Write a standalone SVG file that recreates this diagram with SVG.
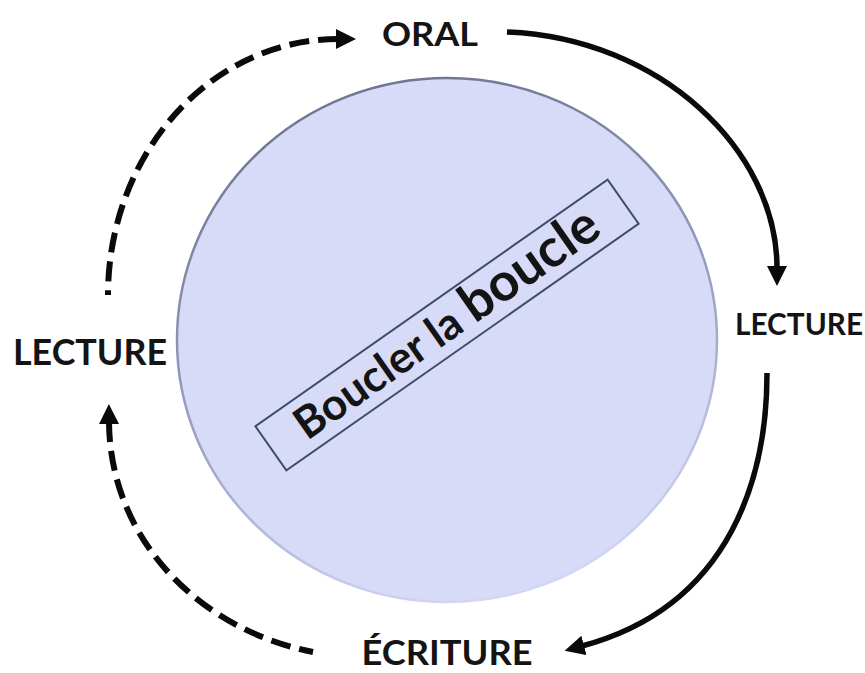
<svg xmlns="http://www.w3.org/2000/svg" width="865" height="673" viewBox="0 0 865 673">
<style>
.lbl{font-family:Lato,"Open Sans","Liberation Sans",sans-serif;font-weight:700;fill:#141414;}
.solid{fill:none;stroke:#0a0a0a;stroke-width:5.5;}
.dash{fill:none;stroke:#0a0a0a;stroke-width:6;stroke-dasharray:20 9;}
</style>
<defs>
<linearGradient id="edge" x1="0.3" y1="0" x2="0.6" y2="1">
<stop offset="0" stop-color="#6c7390"/>
<stop offset="0.55" stop-color="#9aa0c4"/>
<stop offset="1" stop-color="#d4d8f5"/>
</linearGradient>
<marker id="ah" viewBox="0 0 20 20" refX="2" refY="10" markerWidth="20" markerHeight="20" markerUnits="userSpaceOnUse" orient="auto-start-reverse">
<path d="M0,0 L20,10 L0,20 z" fill="#0a0a0a"/>
</marker>
</defs>
<rect width="865" height="673" fill="#ffffff"/>
<g id="centre">
<ellipse cx="447" cy="340" rx="270" ry="262" fill="#d8dbf7" stroke="url(#edge)" stroke-width="2.5"/>
<g transform="translate(447,325) rotate(-35)">
<rect x="-215" y="-27" width="430" height="54" fill="none" stroke="#3e4c6c" stroke-width="2"/>
<text class="lbl" x="0" y="15" text-anchor="middle" font-size="44">Boucler la <tspan font-size="53">boucle</tspan></text>
</g>
</g>
<g id="oral"><text class="lbl" x="430" y="46" text-anchor="middle" font-size="32" textLength="96" lengthAdjust="spacingAndGlyphs">ORAL</text></g>
<g id="lecture-gauche"><text class="lbl" x="90" y="365" text-anchor="middle" font-size="36" textLength="154" lengthAdjust="spacingAndGlyphs">LECTURE</text></g>
<g id="lecture-droite"><text class="lbl" x="799" y="335" text-anchor="middle" font-size="30" textLength="128" lengthAdjust="spacingAndGlyphs">LECTURE</text></g>
<g id="ecriture"><text class="lbl" x="447" y="665" text-anchor="middle" font-size="34" textLength="171" lengthAdjust="spacingAndGlyphs">ÉCRITURE</text></g>
<g id="connectors">
<path class="dash" d="M338,39 A230,256 0 0 0 108,295" marker-start="url(#ah)"/>
<path class="solid" d="M507,32 C660,38 777,150 777,268" marker-end="url(#ah)"/>
<path class="solid" d="M767,373 C767,470 735,605 582,646" marker-end="url(#ah)"/>
<path class="dash" d="M109,422 C110,540 200,630 313,652" marker-start="url(#ah)"/>
</g>
</svg>
